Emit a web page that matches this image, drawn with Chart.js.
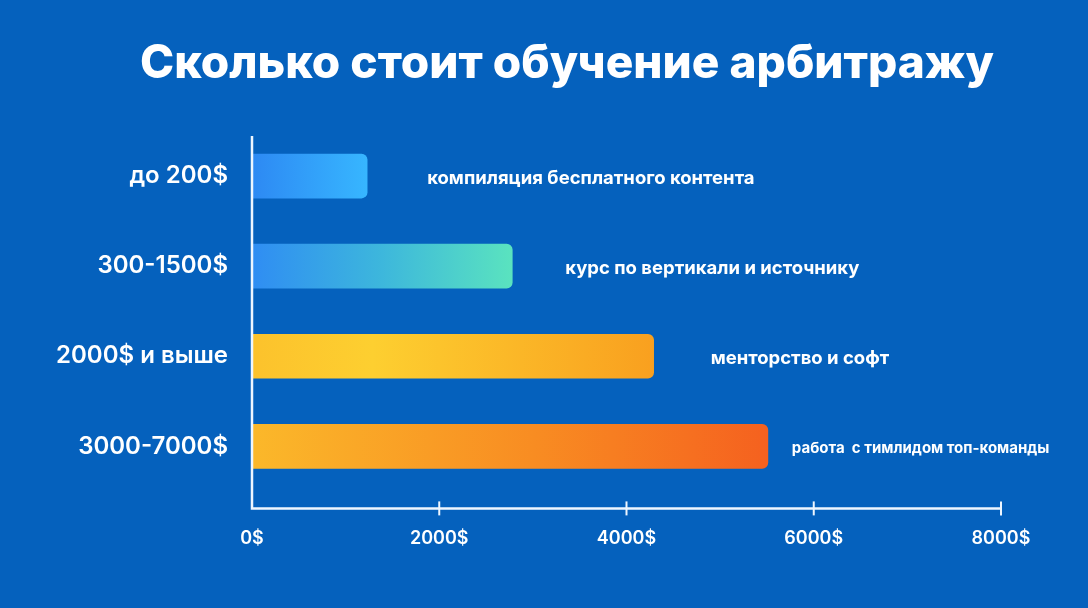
<!DOCTYPE html>
<html>
<head>
<meta charset="utf-8">
<script src="https://cdn.jsdelivr.net/npm/chart.js@4/dist/chart.umd.min.js"></script>
<style>
  html, body { margin: 0; padding: 0; background: #0561bd; }
  #wrap { width: 1088px; height: 608px; position: relative; }
</style>
</head>
<body>
<div id="wrap"><canvas id="c" width="1088" height="608"></canvas></div>
<script>
// ---- data ----
const title = 'Сколько стоит обучение арбитражу';
const categories = ['до 200$', '300-1500$', '2000$ и выше', '3000-7000$'];
const values = [1230, 2780, 4290, 5510];
const descriptions = [
  'компиляция бесплатного контента',
  'курс по вертикали и источнику',
  'менторство и софт',
  'работа  с тимлидом топ-команды'
];
const xTicks = [0, 2000, 4000, 6000, 8000];

// ---- styles ----
const FONT = 'Inter, Lato, "Noto Sans", sans-serif';
const gradientStops = [
  [[0, '#2d89f3'], [1, '#37b6ff']],
  [[0, '#2f8df3'], [0.5, '#3db7dc'], [1, '#5ae3bf']],
  [[0, '#fcc22c'], [0.3, '#fdcf30'], [1, '#f9a01f']],
  [[0, '#fbb82a'], [0.55, '#f88c22'], [1, '#f5611f']]
];
const descOffsets = [60, 53, 57, 24];
const descSizes = [18.5, 18.5, 18.5, 15];

function barGradient(ctx) {
  const chart = ctx.chart;
  const xs = chart.scales.x;
  if (!chart.chartArea || !xs) return gradientStops[ctx.dataIndex][0][1];
  const x0 = xs.getPixelForValue(0);
  const x1 = xs.getPixelForValue(values[ctx.dataIndex]);
  const g = chart.ctx.createLinearGradient(x0, 0, x1, 0);
  gradientStops[ctx.dataIndex].forEach(s => g.addColorStop(s[0], s[1]));
  return g;
}

const decorPlugin = {
  id: 'decor',
  afterDraw(chart) {
    const c = chart.ctx;
    const xs = chart.scales.x;
    const area = chart.chartArea;
    const axisY = area.bottom + 17;
    const axisTop = area.top + 5;
    const x0 = xs.getPixelForValue(0);
    const xEnd = xs.getPixelForValue(xTicks[xTicks.length - 1]);
    c.save();
    c.strokeStyle = '#eef6ff';
    c.lineWidth = 2.5;
    c.beginPath();
    c.moveTo(x0, axisTop);
    c.lineTo(x0, axisY);
    c.lineTo(xEnd, axisY);
    c.stroke();
    c.lineWidth = 2;
    xTicks.slice(1).forEach(v => {
      const px = xs.getPixelForValue(v);
      c.beginPath();
      c.moveTo(px, axisY - 7);
      c.lineTo(px, axisY + 7);
      c.stroke();
    });
    // descriptions
    const meta = chart.getDatasetMeta(0);
    c.fillStyle = '#ffffff';
    c.textBaseline = 'middle';
    c.textAlign = 'left';
    meta.data.forEach((bar, i) => {
      c.font = '700 ' + descSizes[i] + 'px ' + FONT;
      c.fillText(descriptions[i], bar.x + descOffsets[i], bar.y + 2);
    });
    // title
    c.font = '800 46px ' + FONT;
    c.textAlign = 'center';
    c.textBaseline = 'alphabetic';
    c.fillText(title, 567, 78);
    c.restore();
  }
};

new Chart(document.getElementById('c'), {
  type: 'bar',
  data: {
    labels: categories,
    datasets: [{
      data: values,
      backgroundColor: barGradient,
      borderRadius: 6,
      borderSkipped: 'start',
      barThickness: 44
    }]
  },
  options: {
    indexAxis: 'y',
    responsive: false,
    animation: false,
    devicePixelRatio: 1,
    layout: { padding: { top: 131, right: 87, left: 0, bottom: 23 } },
    plugins: { legend: { display: false }, tooltip: { enabled: false }, title: { display: false } },
    scales: {
      x: {
        min: 0, max: 8000,
        afterBuildTicks: s => { s.ticks = xTicks.map(v => ({ value: v })); },
        grid: { display: false, drawTicks: false },
        border: { display: false },
        ticks: {
          color: '#ffffff',
          padding: 36,
          font: { family: FONT, size: 18, weight: '600' },
          callback: v => v + '$'
        }
      },
      y: {
        afterFit: s => { s.width = 252; },
        grid: { display: false, drawTicks: false },
        border: { display: false },
        ticks: {
          color: '#ffffff',
          padding: 24,
          font: { family: FONT, size: 24, weight: '600' }
        }
      }
    }
  },
  plugins: [decorPlugin]
});
</script>
</body>
</html>
